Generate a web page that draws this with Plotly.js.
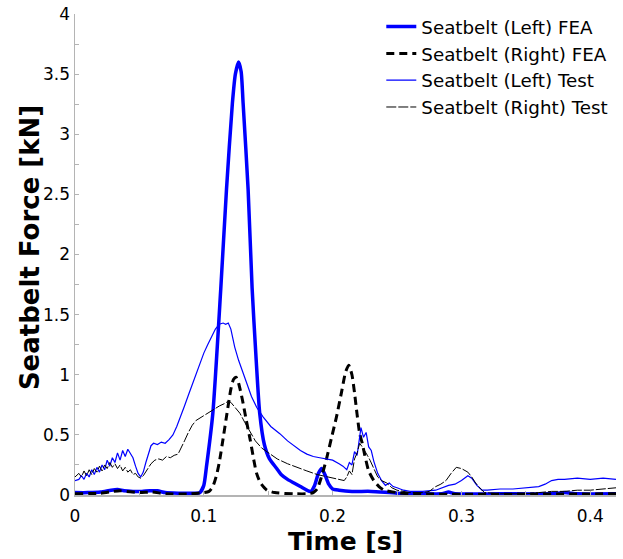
<!DOCTYPE html>
<html>
<head>
<meta charset="utf-8">
<script src="https://cdn.plot.ly/plotly-3.0.1.min.js"></script>
<style>html,body{margin:0;padding:0;background:#fff}#chart{width:623px;height:559px}</style>
</head>
<body>
<div id="chart"></div>
<script>
// Seatbelt (Left) FEA
const feaLeftT = [0,0.01,0.02,0.028,0.033,0.038,0.045,0.052,0.058,0.064,0.07,0.08,0.09,0.095,0.097,0.100,0.102,0.107,0.1132,0.1176,0.1222,0.1245,0.127,0.129,0.1305,0.1344,0.1375,0.1405,0.1434,0.147,0.151,0.1566,0.160,0.165,0.170,0.175,0.180,0.183,0.186,0.189,0.1915,0.194,0.197,0.200,0.205,0.215,0.23,0.25,0.27,0.285,0.29,0.295,0.33,0.37,0.38,0.39,0.42];
const feaLeftF = [0.02,0.02,0.025,0.04,0.045,0.035,0.03,0.03,0.035,0.035,0.02,0.015,0.015,0.015,0.02,0.08,0.23,0.68,1.72,2.54,3.26,3.5,3.6,3.52,3.26,2.54,1.72,1.15,0.68,0.42,0.3,0.22,0.17,0.13,0.1,0.07,0.04,0.03,0.08,0.18,0.22,0.17,0.09,0.05,0.04,0.03,0.03,0.015,0.01,0.01,0.025,0.01,0.01,0.01,0.02,0.01,0.01];

// Seatbelt (Right) FEA
const feaRightT = [0,0.02,0.03,0.035,0.04,0.05,0.06,0.07,0.09,0.1,0.104,0.107,0.110,0.112,0.115,0.118,0.121,0.123,0.125,0.127,0.130,0.133,0.136,0.139,0.141,0.144,0.149,0.155,0.17,0.18,0.185,0.188,0.191,0.195,0.199,0.203,0.207,0.210,0.2125,0.215,0.217,0.219,0.221,0.223,0.225,0.228,0.232,0.236,0.24,0.25,0.26,0.42];
const feaRightF = [0.01,0.015,0.03,0.035,0.03,0.02,0.025,0.01,0.01,0.02,0.03,0.07,0.17,0.27,0.47,0.68,0.88,0.96,0.98,0.93,0.79,0.62,0.46,0.28,0.18,0.1,0.04,0.02,0.01,0.01,0.02,0.05,0.14,0.29,0.47,0.65,0.86,1.02,1.08,1.0,0.85,0.67,0.51,0.43,0.33,0.2,0.12,0.07,0.04,0.02,0.01,0.01];

// Seatbelt (Left) Test
const testLeftT = [0,0.003,0.005,0.007,0.009,0.011,0.013,0.015,0.017,0.019,0.021,0.023,0.025,0.027,0.029,0.031,0.033,0.035,0.037,0.039,0.041,0.043,0.045,0.047,0.049,0.051,0.053,0.055,0.057,0.059,0.061,0.064,0.067,0.070,0.073,0.076,0.079,0.082,0.085,0.088,0.091,0.094,0.097,0.100,0.103,0.106,0.109,0.112,0.115,0.117,0.119,0.121,0.124,0.127,0.130,0.133,0.137,0.141,0.146,0.152,0.159,0.165,0.170,0.175,0.180,0.185,0.190,0.195,0.200,0.205,0.208,0.211,0.213,0.215,0.217,0.219,0.221,0.222,0.224,0.226,0.228,0.230,0.232,0.235,0.238,0.241,0.244,0.247,0.250,0.255,0.26,0.27,0.28,0.285,0.29,0.295,0.30,0.305,0.308,0.312,0.316,0.32,0.33,0.34,0.35,0.36,0.365,0.37,0.375,0.38,0.39,0.40,0.41,0.42];
const testLeftF = [0.12,0.13,0.16,0.13,0.18,0.15,0.21,0.17,0.23,0.19,0.25,0.21,0.29,0.24,0.31,0.27,0.35,0.29,0.37,0.32,0.38,0.35,0.31,0.24,0.18,0.15,0.19,0.27,0.35,0.41,0.43,0.42,0.44,0.43,0.46,0.5,0.57,0.65,0.74,0.83,0.92,1.01,1.1,1.18,1.25,1.32,1.38,1.42,1.43,1.42,1.43,1.38,1.23,1.12,1.03,0.93,0.82,0.73,0.65,0.57,0.51,0.45,0.41,0.37,0.34,0.32,0.31,0.30,0.29,0.26,0.24,0.21,0.27,0.25,0.36,0.33,0.48,0.56,0.48,0.52,0.4,0.37,0.28,0.18,0.12,0.08,0.1,0.07,0.06,0.04,0.03,0.03,0.04,0.06,0.08,0.09,0.12,0.16,0.14,0.08,0.04,0.04,0.05,0.05,0.06,0.07,0.09,0.12,0.13,0.13,0.14,0.13,0.14,0.13];

// Seatbelt (Right) Test
const testRightT = [0,0.003,0.005,0.007,0.009,0.011,0.013,0.015,0.017,0.019,0.021,0.023,0.025,0.027,0.029,0.031,0.033,0.035,0.037,0.039,0.041,0.043,0.045,0.047,0.049,0.051,0.053,0.056,0.059,0.062,0.065,0.068,0.071,0.074,0.077,0.080,0.082,0.085,0.088,0.091,0.094,0.097,0.100,0.104,0.108,0.112,0.116,0.119,0.121,0.124,0.128,0.132,0.136,0.140,0.145,0.150,0.157,0.165,0.172,0.180,0.188,0.196,0.203,0.207,0.209,0.211,0.213,0.215,0.217,0.219,0.221,0.223,0.225,0.227,0.229,0.232,0.235,0.238,0.242,0.246,0.25,0.26,0.27,0.275,0.28,0.284,0.288,0.292,0.296,0.300,0.305,0.308,0.311,0.315,0.318,0.33,0.35,0.36,0.37,0.38,0.39,0.40,0.41,0.42];
const testRightF = [0.15,0.18,0.15,0.2,0.16,0.21,0.17,0.22,0.19,0.24,0.2,0.25,0.22,0.27,0.23,0.26,0.22,0.25,0.2,0.23,0.19,0.21,0.17,0.18,0.15,0.14,0.16,0.21,0.26,0.29,0.3,0.29,0.32,0.31,0.33,0.34,0.38,0.45,0.52,0.58,0.62,0.64,0.66,0.69,0.72,0.74,0.76,0.78,0.77,0.73,0.68,0.6,0.52,0.45,0.39,0.35,0.3,0.26,0.23,0.2,0.17,0.15,0.13,0.12,0.12,0.15,0.2,0.17,0.3,0.35,0.43,0.4,0.37,0.33,0.29,0.22,0.15,0.12,0.1,0.06,0.04,0.02,0.02,0.03,0.07,0.09,0.12,0.18,0.23,0.22,0.19,0.15,0.1,0.05,0.02,0.01,0.01,0.02,0.03,0.03,0.04,0.04,0.05,0.06];

const names = ['Seatbelt (Left) FEA','Seatbelt (Right) FEA','Seatbelt (Left) Test','Seatbelt (Right) Test'];
const xTitle = 'Time [s]';
const yTitle = 'Seatbelt Force [kN]';
const xTicks = [0,0.1,0.2,0.3,0.4];
const xTickText = ['0','0.1','0.2','0.3','0.4'];
const yTicks = [0,0.5,1,1.5,2,2.5,3,3.5,4];
const yTickText = ['0','0.5','1','1.5','2','2.5','3','3.5','4'];

const traces = [
  {x: feaLeftT, y: feaLeftF, name: names[0], mode: 'lines', line: {color: '#0000ff', width: 3.5, shape: 'spline', smoothing: 0.6}},
  {x: feaRightT, y: feaRightF, name: names[1], mode: 'lines', line: {color: '#000000', width: 3, dash: '8px,5px', shape: 'spline', smoothing: 0.6}},
  {x: testLeftT, y: testLeftF, name: names[2], mode: 'lines', line: {color: '#0000ff', width: 1.2}},
  {x: testRightT, y: testRightF, name: names[3], mode: 'lines', line: {color: '#000000', width: 1, dash: '10px,2px'}}
];

const axisFont = {family: 'DejaVu Sans', size: 17, color: '#000'};
const titleFont = {family: 'DejaVu Sans', size: 26, weight: 'bold', color: '#000'};
const layout = {
  width: 623, height: 559,
  margin: {l: 75, r: 7, t: 14, b: 64, pad: 0},
  paper_bgcolor: '#fff', plot_bgcolor: '#fff',
  font: {family: 'DejaVu Sans', color: '#000'},
  showlegend: true,
  legend: {x: 0.995, xanchor: 'right', y: 1.012, yanchor: 'top', bgcolor: 'rgba(0,0,0,0)', font: {family: 'DejaVu Sans', size: 18.3, color: '#000'}},
  xaxis: {
    range: [0, 0.42], tickvals: xTicks, ticktext: xTickText, tickfont: axisFont,
    showgrid: false, zeroline: false, showline: true, linecolor: '#b4b4b4', linewidth: 1.5,
    ticks: 'inside', ticklen: 4, tickcolor: '#b4b4b4', ticklabelstandoff: 5,
    minor: {dtick: 0.05, ticks: 'inside', ticklen: 4, tickcolor: '#b4b4b4'},
    automargin: false
  },
  yaxis: {
    range: [0, 4], tickvals: yTicks, ticktext: yTickText, tickfont: axisFont,
    showgrid: false, zeroline: false, showline: true, linecolor: '#b4b4b4', linewidth: 1.5,
    ticks: 'inside', ticklen: 4, tickcolor: '#b4b4b4',
    minor: {dtick: 0.25, ticks: 'inside', ticklen: 4, tickcolor: '#b4b4b4'},
    automargin: false
  },
  annotations: [
    {text: xTitle, xref: 'paper', yref: 'paper', x: 0.5, y: -0.097, xanchor: 'center', yanchor: 'middle', showarrow: false, font: {family: 'DejaVu Sans', size: 25, weight: 'bold', color: '#000'}},
    {text: yTitle, xref: 'paper', yref: 'paper', x: -0.083, y: 0.5135, xanchor: 'center', yanchor: 'middle', textangle: -90, showarrow: false, font: titleFont}
  ]
};

Plotly.newPlot('chart', traces, layout, {displayModeBar: false, staticPlot: true});
</script>
</body>
</html>
